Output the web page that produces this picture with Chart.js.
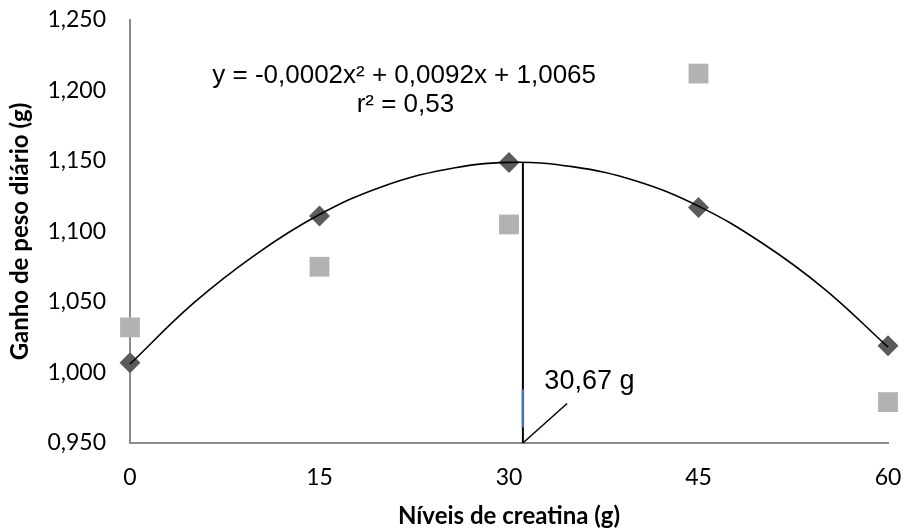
<!DOCTYPE html>
<html>
<head>
<meta charset="utf-8">
<script src="https://cdn.jsdelivr.net/npm/chart.js@4.4.1/dist/chart.umd.min.js"></script>
<style>
  html, body { margin: 0; padding: 0; background: #fff; }
  #wrap { width: 904px; height: 531px; }
</style>
</head>
<body>
<div id="wrap"><canvas id="chart" width="904" height="531"></canvas></div>
<script>
// níveis de creatina (g)
const niveis = [0, 15, 30, 45, 60];
// série 1 (losangos) e série 2 (quadrados), ganho de peso diário (g)
const ganhoLosango = [1.007, 1.111, 1.149, 1.117, 1.019];
const ganhoQuadrado = [1.032, 1.075, 1.105, 1.212, 0.979];

// curva de tendência
const curvaX = [0, 5, 10, 15, 20, 25, 30, 35, 40, 45, 50, 55, 60];
const curvaY = [1.006, 1.049, 1.084, 1.112, 1.132, 1.144, 1.149, 1.146, 1.136, 1.118, 1.092, 1.059, 1.018];

// linha do ponto máximo e chamada
const maxX = 31.1;
const maxY = 1.149;
const chamadaX = [31.1, 34.6];
const chamadaY = [0.950, 0.978];
const realceY = [0.961, 0.988];

const equacao = "y = -0,0002x\u00B2 + 0,0092x + 1,0065";
const rQuadrado = "r\u00B2 = 0,53";
const rotuloMax = "30,67 g";

const toXY = (xs, ys) => xs.map((x, i) => ({ x: x, y: ys[i] }));

const textPlugin = {
  id: "textos",
  afterDatasetsDraw(chart) {
    const { ctx, scales: { x, y } } = chart;
    ctx.save();
    ctx.fillStyle = "#000";
    ctx.font = "26px 'Liberation Sans', Arial, sans-serif";
    ctx.textAlign = "center";
    ctx.textBaseline = "middle";
    ctx.fillText(equacao, x.getPixelForValue(21.7), y.getPixelForValue(1.2105));
    ctx.fillText(rQuadrado, x.getPixelForValue(21.8), y.getPixelForValue(1.1895));
    ctx.font = "27px 'Liberation Sans', Arial, sans-serif";
    ctx.textAlign = "left";
    ctx.fillText(rotuloMax, x.getPixelForValue(32.8), y.getPixelForValue(0.9935));
    ctx.restore();
  }
};

new Chart(document.getElementById("chart"), {
  type: "scatter",
  data: {
    datasets: [
      {
        type: "line",
        data: toXY(chamadaX, chamadaY),
        borderColor: "#000",
        borderWidth: 1.5,
        pointRadius: 0
      },
      {
        type: "line",
        data: toXY([maxX, maxX], realceY),
        borderColor: "#4a72b0",
        borderWidth: 2.5,
        pointRadius: 0
      },
      {
        type: "line",
        data: toXY([maxX, maxX], [0.950, maxY]),
        borderColor: "#000",
        borderWidth: 2,
        pointRadius: 0
      },
      {
        type: "line",
        data: toXY(curvaX, curvaY),
        borderColor: "#000",
        borderWidth: 1.6,
        pointRadius: 0,
        tension: 0.4
      },
      {
        data: toXY(niveis, ganhoLosango),
        pointStyle: "rectRot",
        pointRadius: 10.5,
        backgroundColor: "#5b5b5b",
        borderColor: "#5b5b5b",
        borderWidth: 0
      },
      {
        data: toXY(niveis, ganhoQuadrado),
        pointStyle: "rect",
        pointRadius: 14,
        backgroundColor: "#b2b2b2",
        borderColor: "#b2b2b2",
        borderWidth: 0
      }
    ]
  },
  options: {
    responsive: false,
    animation: false,
    clip: false,
    layout: { padding: { left: 0, right: 16, top: 20, bottom: 0 } },
    plugins: { legend: { display: false }, tooltip: { enabled: false } },
    scales: {
      x: {
        type: "linear",
        min: 0,
        max: 60,
        ticks: {
          stepSize: 15,
          color: "#000",
          padding: 21,
          font: { family: "Lato", size: 23 }
        },
        grid: { display: false, drawTicks: false },
        border: { color: "#8c8c8c", width: 2 },
        title: {
          display: true,
          text: "Níveis de creatina (g)",
          color: "#000",
          font: { family: "Lato", size: 24, weight: "bold" },
          padding: { top: 4, bottom: 0 }
        },
        afterFit(s) {
          s.height = 88;
          s.paddingLeft = 0;
          s.paddingRight = 0;
        }
      },
      y: {
        min: 0.95,
        max: 1.25,
        ticks: {
          stepSize: 0.05,
          color: "#000",
          padding: 24,
          font: { family: "Lato", size: 23 },
          callback: v => v.toFixed(3).replace(".", ",")
        },
        grid: { display: false, drawTicks: false },
        border: { color: "#8c8c8c", width: 2 },
        title: {
          display: true,
          text: "Ganho de peso diário (g)",
          color: "#000",
          font: { family: "Lato", size: 24, weight: "bold" },
          padding: { top: 6, bottom: 4 }
        },
        afterFit(s) {
          s.width = 130;
          s.paddingTop = 0;
          s.paddingBottom = 0;
        }
      }
    }
  },
  plugins: [textPlugin]
});
</script>
</body>
</html>
